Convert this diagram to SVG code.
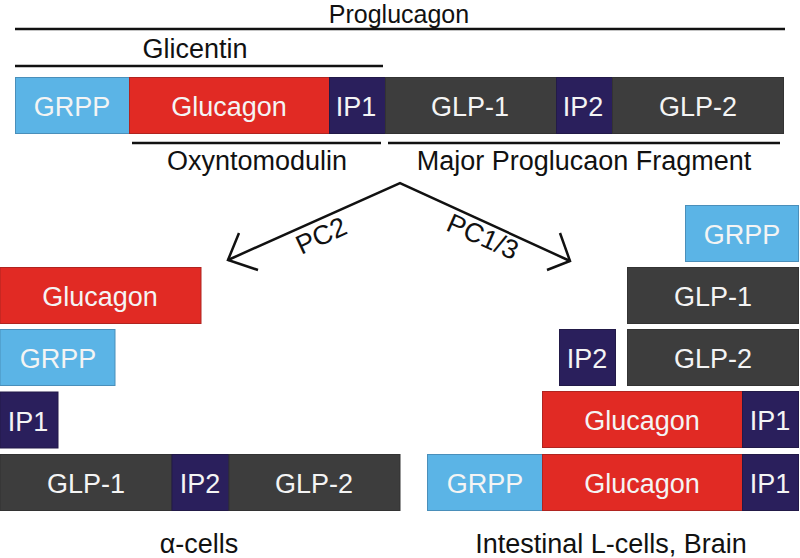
<svg xmlns="http://www.w3.org/2000/svg" width="800" height="558" viewBox="0 0 800 558">
<style>
text{font-family:"Liberation Sans",Arial,sans-serif;font-size:27px;text-anchor:middle}
.w{fill:#f4f4f4}
.k{fill:#111}
.blue{fill:#5bb4e6;stroke:#4a8fba;stroke-width:1}
.red{fill:#e12a24;stroke:#b02420;stroke-width:1}
.navy{fill:#2a1f5c;stroke:#221a48;stroke-width:1}
.gray{fill:#3d3d3d;stroke:#333;stroke-width:1}
.ln{stroke:#111;stroke-width:2.5;fill:none}
</style>
<rect width="800" height="558" fill="#fff"/>
<g id="labels-top">
<text class="k" x="399" y="23" style="font-size:25px">Proglucagon</text>
<line class="ln" x1="15" y1="29" x2="785" y2="29"/>
<text class="k" x="195" y="58">Glicentin</text>
<line class="ln" x1="15" y1="66" x2="383" y2="66"/>
<line class="ln" x1="132" y1="143" x2="381" y2="143"/>
<text class="k" x="257" y="170">Oxyntomodulin</text>
<line class="ln" x1="388" y1="143" x2="780" y2="143"/>
<text class="k" x="584" y="170">Major Proglucaon Fragment</text>
</g>
<g id="top-grpp"><rect class="blue" x="15.5" y="77.5" width="114" height="56"/><text class="w" x="72" y="116">GRPP</text></g>
<g id="top-glucagon"><rect class="red" x="129.5" y="77.5" width="200" height="56"/><text class="w" x="229" y="116">Glucagon</text></g>
<g id="top-ip1"><rect class="navy" x="329.5" y="77.5" width="56" height="56"/><text class="w" x="356" y="116">IP1</text></g>
<g id="top-glp1"><rect class="gray" x="385.5" y="77.5" width="171" height="56"/><text class="w" x="470" y="116">GLP-1</text></g>
<g id="top-ip2"><rect class="navy" x="556.5" y="77.5" width="56" height="56"/><text class="w" x="583" y="116">IP2</text></g>
<g id="top-glp2"><rect class="gray" x="612.5" y="77.5" width="171" height="56"/><text class="w" x="698" y="116">GLP-2</text></g>
<g id="connectors">
<polyline class="ln" points="228,260 400,183 570,261"/>
<polyline class="ln" points="239,233 228,260 258,270"/>
<polyline class="ln" points="560,233 570,261 547,270"/>
<text class="k" x="325" y="244" transform="rotate(-25 325 244)">PC2</text>
<text class="k" x="479" y="245" transform="rotate(24 479 245)">PC1/3</text>
</g>
<g id="a-glucagon"><rect class="red" x="0" y="267.5" width="201" height="56"/><text class="w" x="100" y="306">Glucagon</text></g>
<g id="a-grpp"><rect class="blue" x="0" y="329.5" width="115" height="56"/><text class="w" x="58" y="368">GRPP</text></g>
<g id="a-ip1"><rect class="navy" x="0" y="392" width="58" height="56"/><text class="w" x="28" y="431">IP1</text></g>
<g id="a-glp1"><rect class="gray" x="0" y="454.5" width="172" height="56"/><text class="w" x="86" y="493">GLP-1</text></g>
<g id="a-ip2"><rect class="navy" x="172" y="454.5" width="57" height="56"/><text class="w" x="200" y="493">IP2</text></g>
<g id="a-glp2"><rect class="gray" x="229" y="454.5" width="171" height="56"/><text class="w" x="314" y="493">GLP-2</text></g>
<text class="k" x="199" y="553">α-cells</text>
<g id="l-grpp"><rect class="blue" x="685.5" y="205.5" width="113" height="56"/><text class="w" x="742" y="244">GRPP</text></g>
<g id="l-glp1"><rect class="gray" x="627.5" y="267.5" width="171" height="56"/><text class="w" x="713" y="306">GLP-1</text></g>
<g id="l-ip2"><rect class="navy" x="559.5" y="329.5" width="56" height="56"/><text class="w" x="587" y="368">IP2</text></g>
<g id="l-glp2"><rect class="gray" x="627.5" y="329.5" width="171" height="56"/><text class="w" x="713" y="368">GLP-2</text></g>
<g id="l-glucagon"><rect class="red" x="542.5" y="391.5" width="200" height="56"/><text class="w" x="642" y="430">Glucagon</text></g>
<g id="l-ip1"><rect class="navy" x="742.5" y="391.5" width="56" height="56"/><text class="w" x="770" y="430">IP1</text></g>
<g id="l2-grpp"><rect class="blue" x="427.5" y="454.5" width="115" height="56"/><text class="w" x="485" y="493">GRPP</text></g>
<g id="l2-glucagon"><rect class="red" x="542.5" y="454.5" width="200" height="56"/><text class="w" x="642" y="493">Glucagon</text></g>
<g id="l2-ip1"><rect class="navy" x="742.5" y="454.5" width="56" height="56"/><text class="w" x="770" y="493">IP1</text></g>
<text class="k" x="611" y="553">Intestinal L-cells, Brain</text>
</svg>
